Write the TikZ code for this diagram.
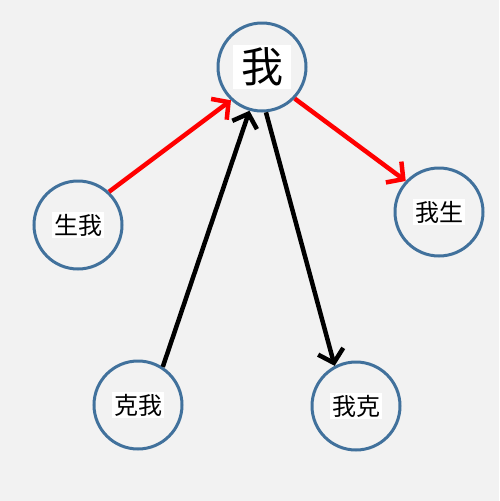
\documentclass[tikz,border=0pt]{standalone}
\usepackage{fontspec}
\newfontfamily\cjk{Noto Sans CJK SC}
\usetikzlibrary{arrows.meta}

\definecolor{ringblue}{HTML}{41719C}
\definecolor{bggray}{HTML}{F2F2F2}

\tikzset{
  ring/.style={circle, draw=ringblue, line width=3pt, minimum size=88pt, inner sep=0pt},
  tag/.style={fill=white, inner sep=2pt, font=\cjk\fontsize{24}{26}\selectfont},
  link/.style={line width=4.5pt, -{Straight Barb[length=12pt,width=26pt]}}
}

\begin{document}
\begin{tikzpicture}[x=1pt,y=-1pt]
            \fill[bggray] (0,0) rectangle (499,501);
            \useasboundingbox (0,0) rectangle (499,501);

            \node[ring] (wo) at (262,67) {};
            \node[ring] (shengwo) at (78,225) {};
            \node[ring] (wosheng) at (439,212) {};
            \node[ring] (kewo) at (138,405) {};
            \node[ring] (woke) at (356,406) {};

            \node[tag, inner xsep=8pt, inner ysep=3pt, font=\cjk\fontsize{42}{44}\selectfont] (wo-t) at (wo) {我};
            \node[tag] (shengwo-t) at (shengwo) {生我};
            \node[tag] (wosheng-t) at (wosheng) {我生};
            \node[tag] (kewo-t) at (kewo) {克我};
            \node[tag] (woke-t) at (woke) {我克};

            % sheng
            \draw[link, red] (shengwo.47) -- (wo.-133);
            \draw[link, red] (wo.-44) -- (wosheng.137);
            % ke
            \draw[link] (kewo.57) -- (wo.-106);
            \draw[link] (wo.-85) -- (woke.118);
\end{tikzpicture}
\end{document}
